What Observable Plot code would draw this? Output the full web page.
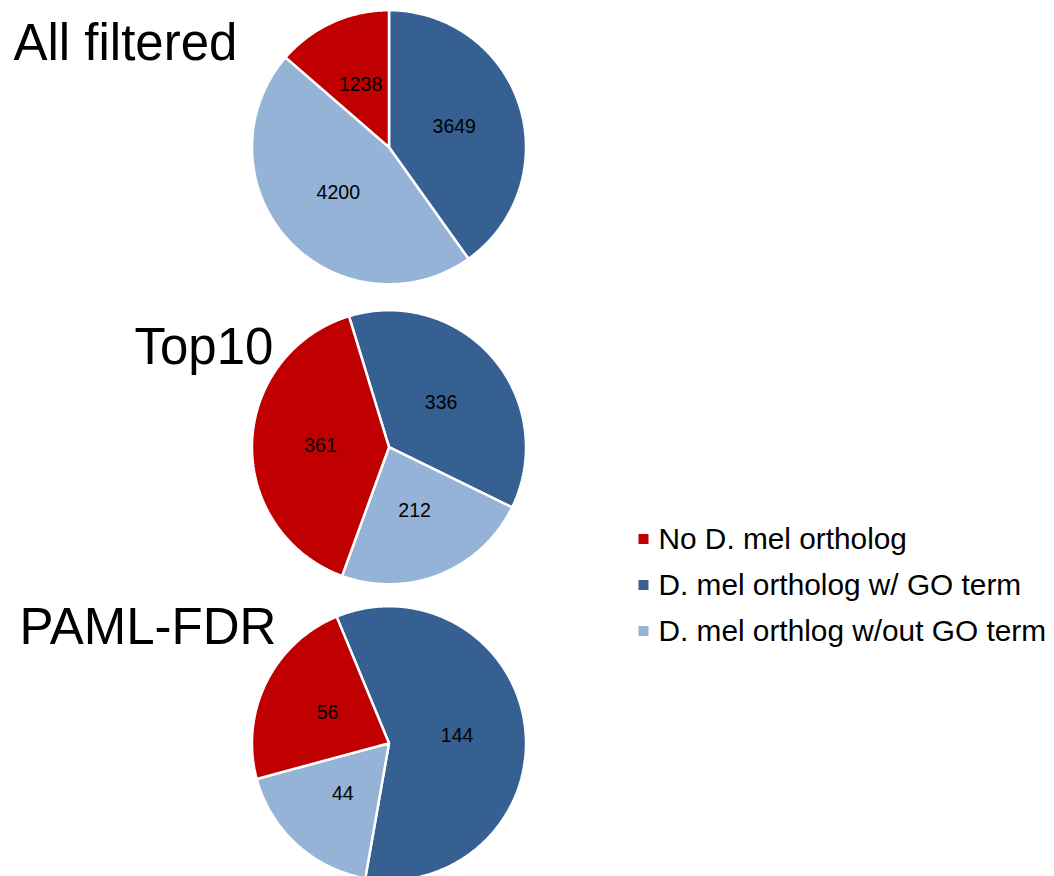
<!DOCTYPE html>
<html>
<head>
<meta charset="utf-8">
<script src="https://cdn.jsdelivr.net/npm/d3@7"></script>
<script src="https://cdn.jsdelivr.net/npm/@observablehq/plot@0.6"></script>
<style>
  html, body { margin: 0; padding: 0; background: #fff; overflow: hidden; }
  #chart svg { display: block; }
</style>
</head>
<body>
<div id="chart"></div>
<script>
// ---- data ----
const categories = ["No D. mel ortholog", "D. mel ortholog w/ GO term", "D. mel orthlog w/out GO term"];
const colors = ["#C00000", "#376092", "#95B3D7"];
const pieTitles = ["All filtered", "Top10", "PAML-FDR"];
const noOrtholog = [1238, 361, 56];
const orthologGO = [3649, 336, 144];
const orthologNoGO = [4200, 212, 44];
// angle (degrees clockwise from 12 o'clock) where the "w/ GO term" slice begins
const firstSliceAngle = [0, -17, -22.5];
// clockwise drawing order of the categories inside each pie
const sliceOrder = [1, 2, 0];

// ---- layout ----
const W = 1054, H = 876;
const pieCx = 388.5, pieCy = [146.7, 446.7, 742.7], R = 137;
const titleX = [13, 134, 19], titleBaseline = [59.5, 363, 643], titleSize = 51;
const labelSize = 19.5;
const legendX = 643, legendTextX = 658, legendY0 = 538.5, legendStep = 46, legendSize = 29.8, legendBaseline0 = 548.5;
const font = "'Liberation Sans', Arial, Helvetica, sans-serif";

const seriesByCat = [noOrtholog, orthologGO, orthologNoGO];

const slicePoints = [];
const labels = [];
pieTitles.forEach((title, p) => {
  const values = sliceOrder.map(c => ({cat: categories[c], value: seriesByCat[c][p]}));
  const a0 = firstSliceAngle[p] * Math.PI / 180;
  const arcs = d3.pie().sort(null).value(d => d.value).startAngle(a0).endAngle(a0 + 2 * Math.PI)(values);
  const cx = pieCx, cy = pieCy[p];
  arcs.forEach((a, i) => {
    const id = `${p}-${i}`;
    slicePoints.push({id, cat: a.data.cat, x: cx, y: cy});
    const n = Math.max(2, Math.ceil((a.endAngle - a.startAngle) / (Math.PI / 360)));
    for (let k = 0; k <= n; k++) {
      const t = a.startAngle + (a.endAngle - a.startAngle) * k / n;
      slicePoints.push({id, cat: a.data.cat, x: cx + R * Math.sin(t), y: cy - R * Math.cos(t)});
    }
    const m = (a.startAngle + a.endAngle) / 2;
    labels.push({x: cx + 0.5 * R * Math.sin(m), y: cy - 0.5 * R * Math.cos(m), text: String(a.data.value)});
  });
});

const titles = pieTitles.map((t, i) => ({text: t, x: titleX[i], y: titleBaseline[i] - 0.32 * titleSize}));
const legend = categories.map((c, i) => ({cat: c, y: legendY0 + i * legendStep, ty: legendBaseline0 + i * legendStep - 0.32 * legendSize}));

const chart = Plot.plot({
  width: W,
  height: H,
  margin: 0,
  style: {fontFamily: font, background: "white", color: "black"},
  x: {domain: [0, W], range: [0, W], axis: null},
  y: {domain: [0, H], range: [0, H], axis: null},
  color: {type: "categorical", domain: categories, range: colors},
  marks: [
    Plot.line(slicePoints, {x: "x", y: "y", z: "id", fill: "cat", stroke: "white", strokeWidth: 2.5, curve: "linear-closed", strokeLinejoin: "miter"}),
    Plot.text(labels, {x: "x", y: "y", text: "text", fontSize: labelSize, fill: "black"}),
    Plot.text(titles, {x: "x", y: "y", text: "text", fontSize: titleSize, textAnchor: "start", fill: "black"}),
    Plot.dot(legend, {x: legendX, y: "y", symbol: "square", r: 5.64, fill: "cat", stroke: null}),
    Plot.text(legend, {x: legendTextX, y: "ty", text: "cat", fontSize: legendSize, textAnchor: "start", fill: "black"})
  ]
});
document.getElementById("chart").appendChild(chart);
</script>
</body>
</html>
